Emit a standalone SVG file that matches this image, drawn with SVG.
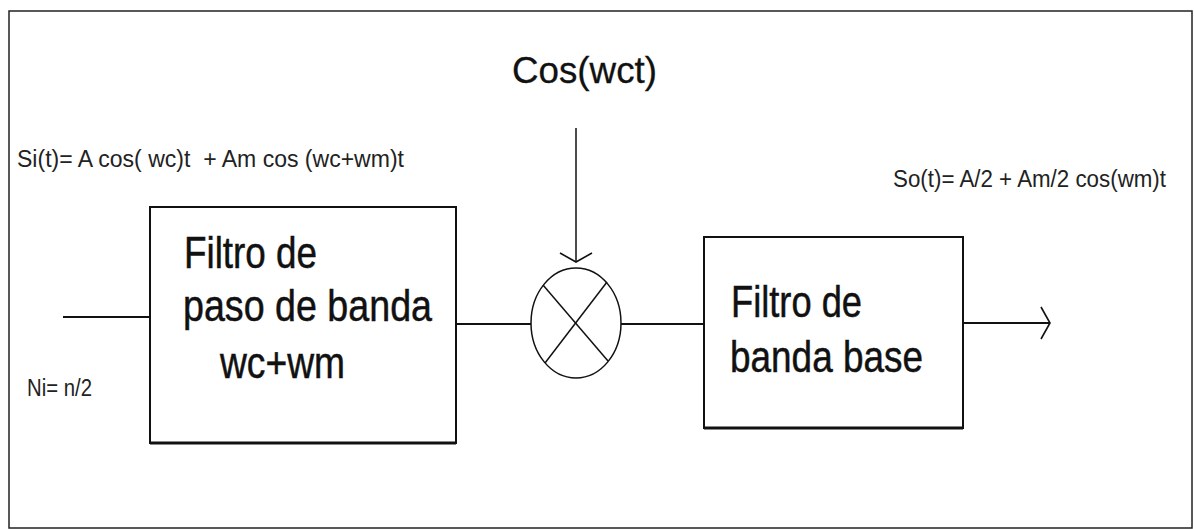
<svg xmlns="http://www.w3.org/2000/svg" width="1194" height="529" viewBox="0 0 1194 529">
  <style>
    .frame { fill: none; stroke: #222; stroke-width: 1.5; }
    .block { fill: #fff; stroke: #111; stroke-width: 2; }
    .base { stroke: #111; stroke-width: 3; }
    .wire { fill: none; stroke: #111; stroke-width: 2; }
    .thin { fill: none; stroke: #111; stroke-width: 1.5; }
    .big { font-family: "Liberation Sans", Arial, sans-serif; font-size: 45px; fill: #111; stroke: #111; stroke-width: 0.5; }
    .carrier { font-family: "Liberation Sans", Arial, sans-serif; font-size: 37px; fill: #111; stroke: #111; stroke-width: 0.3; }
    .eq { font-family: "Liberation Sans", Arial, sans-serif; font-size: 23px; fill: #222; }
  </style>
  <defs>
    <marker id="open-arrow" markerUnits="userSpaceOnUse" markerWidth="24" markerHeight="40" viewBox="-12 -20 24 40" refX="0" refY="0" orient="auto">
      <path d="M-9,-16 L0,0 L-9,16" fill="none" stroke="#111" stroke-width="1.6"/>
    </marker>
  </defs>

  <rect width="1194" height="529" fill="#fff"/>
  <rect class="frame" x="9" y="11" width="1183" height="517"/>

  <!-- equations -->
  <text class="eq" x="17" y="167" textLength="387" lengthAdjust="spacingAndGlyphs">Si(t)= A cos( wc)t &#160;+ Am cos (wc+wm)t</text>
  <text class="eq" x="27" y="396" textLength="65" lengthAdjust="spacingAndGlyphs">Ni= n/2</text>
  <text class="eq" x="893" y="187" textLength="273" lengthAdjust="spacingAndGlyphs">So(t)= A/2 + Am/2 cos(wm)t</text>

  <g id="connectors">
    <line class="wire" x1="63" y1="317" x2="150" y2="317"/>
    <line class="wire" x1="452" y1="324" x2="531" y2="324"/>
    <line class="wire" x1="621" y1="324" x2="711" y2="324"/>
    <line class="thin" x1="576" y1="128" x2="576" y2="262" marker-end="url(#open-arrow)"/>
    <line class="wire" x1="963" y1="323" x2="1050" y2="323" marker-end="url(#open-arrow)"/>
  </g>

  <g id="bandpass">
    <rect class="block" x="150" y="207" width="306" height="236"/>
    <line class="base" x1="150" y1="443" x2="456" y2="443"/>
    <text class="big" x="184" y="268" textLength="133" lengthAdjust="spacingAndGlyphs">Filtro de</text>
    <text class="big" x="183" y="321" textLength="249" lengthAdjust="spacingAndGlyphs">paso de banda</text>
    <text class="big" x="220" y="378" textLength="125" lengthAdjust="spacingAndGlyphs">wc+wm</text>
  </g>

  <g id="mixer">
    <ellipse class="thin" cx="576" cy="323" rx="45" ry="55"/>
    <line class="thin" x1="543" y1="285" x2="608" y2="361"/>
    <line class="thin" x1="607" y1="282" x2="545" y2="363"/>
    <text class="carrier" x="512" y="83" textLength="145" lengthAdjust="spacingAndGlyphs">Cos(wct)</text>
  </g>

  <g id="baseband">
    <rect class="block" x="704" y="237" width="259" height="191"/>
    <line class="base" x1="704" y1="428" x2="963" y2="428"/>
    <text class="big" x="731" y="317" textLength="131" lengthAdjust="spacingAndGlyphs">Filtro de</text>
    <text class="big" x="730" y="372" textLength="193" lengthAdjust="spacingAndGlyphs">banda base</text>
  </g>
</svg>
